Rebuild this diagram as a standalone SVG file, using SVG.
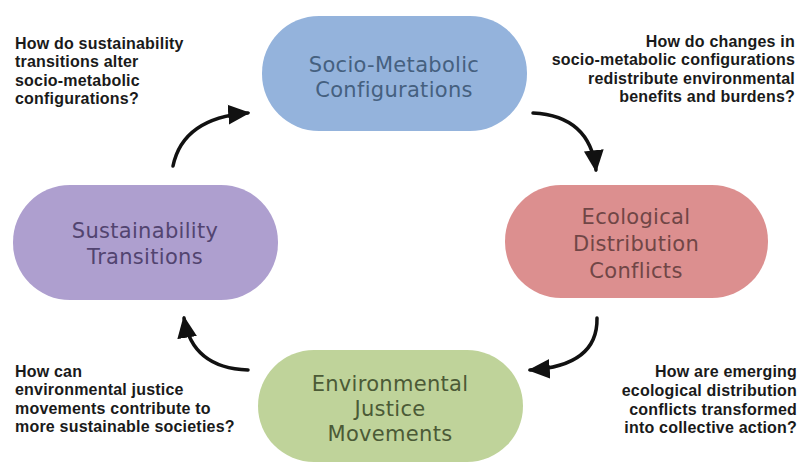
<svg xmlns="http://www.w3.org/2000/svg" width="801" height="464" viewBox="0 0 801 464">
<defs>
<marker id="ah" markerUnits="userSpaceOnUse" markerWidth="22" markerHeight="22" viewBox="0 0 20 20" refX="18" refY="10" orient="auto">
<path d="M0,1 L20,10 L0,19 Z" fill="#111"/>
</marker>
<style>
.node text{font-family:"DejaVu Sans","Open Sans",sans-serif;font-size:21px;letter-spacing:0.3px;text-anchor:middle}
.q{font-family:"Liberation Sans",Arial,sans-serif;font-weight:bold;font-size:16px;letter-spacing:0.2px;fill:#1a1a1a}
.conn path{fill:none;stroke:#111;stroke-width:3.5;stroke-linecap:round;marker-end:url(#ah)}
</style>
</defs>
<rect width="801" height="464" fill="#ffffff"/>
<g id="socio-metabolic" class="node">
<rect x="262" y="16" width="265" height="115" rx="57" ry="57" fill="#94b3dc"/>
<text x="394" y="72" fill="#45607f">Socio-Metabolic</text>
<text x="394" y="97" fill="#45607f">Configurations</text>
</g>
<g id="ecological-distribution" class="node">
<rect x="505" y="185" width="263" height="113" rx="56" ry="56" fill="#dc8f8f"/>
<text x="636" y="224" fill="#704646">Ecological</text>
<text x="636" y="251" fill="#704646">Distribution</text>
<text x="636" y="278" fill="#704646">Conflicts</text>
</g>
<g id="sustainability-transitions" class="node">
<rect x="13" y="185" width="265" height="115" rx="57" ry="57" fill="#ae9fcf"/>
<text x="145" y="238" fill="#524470">Sustainability</text>
<text x="145" y="264" fill="#524470">Transitions</text>
</g>
<g id="environmental-justice" class="node">
<rect x="258" y="350" width="265" height="112" rx="56" ry="56" fill="#bfd39a"/>
<text x="390" y="391" fill="#4b5a36">Environmental</text>
<text x="390" y="416" fill="#4b5a36">Justice</text>
<text x="390" y="441" fill="#4b5a36">Movements</text>
</g>
<g id="connectors" class="conn">
<path d="M173,166 Q183,118 248,113"/>
<path d="M533,113 Q590,116 596,170"/>
<path d="M597,318 Q598,366 530,370"/>
<path d="M248,370 Q192,368 184,318"/>
</g>
<g id="questions">
<text class="q" x="15" y="49">How do sustainability</text>
<text class="q" x="15" y="67">transitions alter</text>
<text class="q" x="15" y="86">socio-metabolic</text>
<text class="q" x="15" y="104">configurations?</text>
<g text-anchor="end">
<text class="q" x="795" y="47">How do changes in</text>
<text class="q" x="795" y="65">socio-metabolic configurations</text>
<text class="q" x="795" y="84">redistribute environmental</text>
<text class="q" x="795" y="102">benefits and burdens?</text>
<text class="q" x="797" y="377">How are emerging</text>
<text class="q" x="797" y="396">ecological distribution</text>
<text class="q" x="797" y="415">conflicts transformed</text>
<text class="q" x="797" y="433">into collective action?</text>
</g>
<text class="q" x="15" y="377">How can</text>
<text class="q" x="15" y="395">environmental justice</text>
<text class="q" x="15" y="414">movements contribute to</text>
<text class="q" x="15" y="432">more sustainable societies?</text>
</g>
</svg>
